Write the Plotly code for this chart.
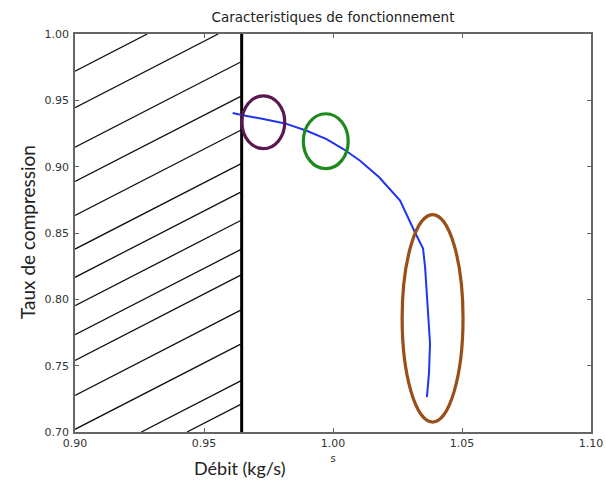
import plotly.graph_objects as go

# Operating curve: mass flow (kg/s) vs compression ratio
debit = [0.9611, 0.9646, 0.9730, 0.9814, 0.9898, 0.9975, 1.0040, 1.0105,
         1.0179, 1.0260, 1.0318, 1.0349, 1.0357, 1.0368, 1.0376, 1.0372, 1.0364]
taux = [0.9404, 0.9389, 0.9359, 0.9326, 0.9271, 0.9208, 0.9133, 0.9045,
        0.8920, 0.8744, 0.8504, 0.8383, 0.8241, 0.7917, 0.7669, 0.7444, 0.7263]

# Surge limit (vertical line) and hatched forbidden zone
limite_pompage = 0.9646
hachures_offsets = [0.0720, 0.0445, 0.0147, -0.0112, -0.0368, -0.0621, -0.0834,
                    -0.1048, -0.1267, -0.1460, -0.1724, -0.1980, -0.2257, -0.2434]

# Highlighted regions: centre x, centre y, half-width, half-height, colour
zones_cx = [0.9730, 0.9972, 1.0386]
zones_cy = [0.9335, 0.9192, 0.7857]
zones_rx = [0.0083, 0.0087, 0.0118]
zones_ry = [0.0199, 0.0207, 0.0782]
zones_col = ["#5a1850", "#1e8a1e", "#9a4e18"]

x_min, x_max = 0.90, 1.10
y_min, y_max = 0.70, 1.00
x_ticks = [0.90, 0.95, 1.00, 1.05, 1.10]
y_ticks = [0.70, 0.75, 0.80, 0.85, 0.90, 0.95, 1.00]

fig = go.Figure()

# Hatch lines y = x + c clipped to the forbidden zone
hx, hy = [], []
for c in hachures_offsets:
    xa = max(x_min, y_min - c)
    xb = min(limite_pompage, y_max - c)
    if xb > xa:
        hx += [xa, xb, None]
        hy += [xa + c, xb + c, None]
fig.add_trace(go.Scatter(x=hx, y=hy, mode="lines",
                         line=dict(color="#111111", width=1.3),
                         hoverinfo="skip", showlegend=False))

# Surge line
fig.add_trace(go.Scatter(x=[limite_pompage, limite_pompage], y=[y_min, y_max],
                         mode="lines", line=dict(color="#000000", width=3),
                         hoverinfo="skip", showlegend=False))

# Operating curve
fig.add_trace(go.Scatter(x=debit, y=taux, mode="lines",
                         line=dict(color="#1f35ee", width=2),
                         showlegend=False))

shapes = []
for cx, cy, rx, ry, col in zip(zones_cx, zones_cy, zones_rx, zones_ry, zones_col):
    shapes.append(dict(type="circle", xref="x", yref="y",
                       x0=cx - rx, x1=cx + rx, y0=cy - ry, y1=cy + ry,
                       line=dict(color=col, width=3.2)))

axis_common = dict(showgrid=False, zeroline=False, showline=True,
                   linecolor="#666666", linewidth=1.5, mirror="ticks",
                   ticks="inside", ticklen=4, tickcolor="#666666",
                   automargin=False,
                   tickfont=dict(family="DejaVu Sans", size=11, color="#333333"))

fig.update_layout(
    width=606, height=486,
    margin=dict(l=75, r=15, t=34, b=54),
    paper_bgcolor="white", plot_bgcolor="white",
    shapes=shapes,
    title=dict(text="Caracteristiques de fonctionnement",
               font=dict(family="DejaVu Sans", size=13.5, color="#222222"),
               x=(75 + 591) / 2 / 606, xanchor="center",
               y=1 - 17 / 486, yanchor="middle"),
    xaxis=dict(range=[x_min, x_max], tickvals=x_ticks,
               ticktext=[f"{v:.2f}" for v in x_ticks],
               title=dict(text="s", font=dict(family="DejaVu Sans", size=10, color="#333333"),
                          standoff=6),
               **axis_common),
    yaxis=dict(range=[y_min, y_max], tickvals=y_ticks,
               ticktext=[f"{v:.2f}" for v in y_ticks],
               ticklabelstandoff=2,
               **axis_common),
    annotations=[
        dict(text="Débit (kg/s)", xref="paper", yref="paper",
             x=(240 - 75) / 516, y=(432 - 468) / 398,
             xanchor="center", yanchor="middle", showarrow=False,
             font=dict(family="Lato", size=18, color="#222222")),
        dict(text="Taux de compression", xref="paper", yref="paper",
             x=(27 - 75) / 516, y=(432 - 232) / 398, textangle=-90,
             xanchor="center", yanchor="middle", showarrow=False,
             font=dict(family="Lato", size=19, color="#222222")),
    ],
)

fig.write_html("out.html")
